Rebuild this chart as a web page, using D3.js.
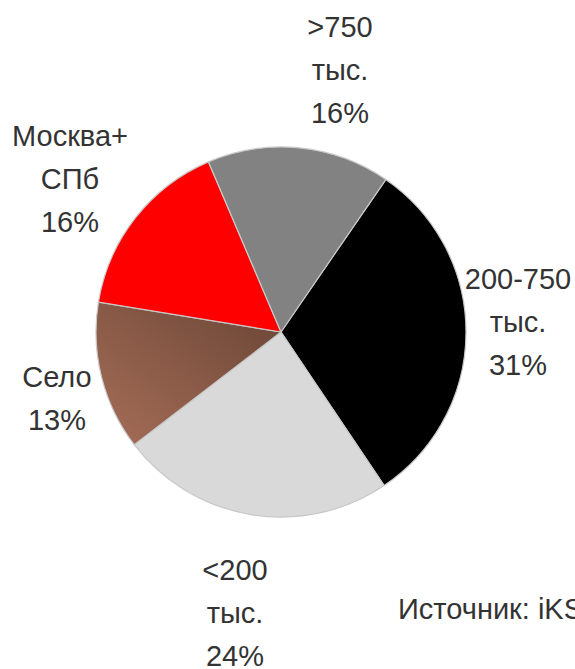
<!DOCTYPE html>
<html>
<head>
<meta charset="utf-8">
<script src="https://cdn.jsdelivr.net/npm/d3@7"></script>
<style>
  body { margin: 0; background: #fff; overflow: hidden; }
  svg text { font-family: "Liberation Sans Narrow", "Arial Narrow", "Liberation Sans", sans-serif; fill: #333; }
</style>
</head>
<body>
<div id="chart"></div>
<script>
// --- data ---
const categories = ["200-750 тыс.", "<200 тыс.", "Село", "Москва+ СПб", ">750 тыс."];
const shares = [31, 24, 13, 16, 16];
const sliceColors = ["#000000", "#d9d9d9", "url(#brownGrad)", "#ff0000", "#828282"];
// label lines per slice
const labelLines = [
  ["200-750", "тыс.", "31%"],
  ["<200", "тыс.", "24%"],
  ["Село", "13%"],
  ["Москва+", "СПб", "16%"],
  [">750", "тыс.", "16%"]
];
const labelPos = [[518, 289], [235, 580], [57, 387], [70, 146], [340, 37]];
const source = "Источник: iKS-Consulting";

const W = 575, H = 669;
const cx = 281, cy = 332, R = 185;

const svg = d3.select("#chart").append("svg").attr("width", W).attr("height", H);

const defs = svg.append("defs");
const g = defs.append("linearGradient").attr("id", "brownGrad")
  .attr("x1", 1).attr("y1", 0).attr("x2", 0).attr("y2", 1);
g.append("stop").attr("offset", "0%").attr("stop-color", "#6a4535");
g.append("stop").attr("offset", "100%").attr("stop-color", "#a66e58");

const pie = d3.pie().sort(null)
  .startAngle(34.5 * Math.PI / 180)
  .endAngle((34.5 + 360) * Math.PI / 180);
const arc = d3.arc().innerRadius(0).outerRadius(R);

const pieG = svg.append("g").attr("transform", `translate(${cx},${cy})`);
pieG.selectAll("path").data(pie(shares)).enter().append("path")
  .attr("d", arc)
  .attr("fill", (d, i) => sliceColors[i])
  .attr("stroke", "#c8c8c8")
  .attr("stroke-width", 1.2);

// --- labels ---
const lineH = 43;
labelLines.forEach((lines, i) => {
  const t = svg.append("text")
    .attr("x", labelPos[i][0]).attr("y", labelPos[i][1])
    .attr("text-anchor", "middle")
    .style("font-size", "29px");
  lines.forEach((l, j) => {
    t.append("tspan").attr("x", labelPos[i][0]).attr("y", labelPos[i][1] + j * lineH).text(l);
  });
});

svg.append("text").attr("x", 398).attr("y", 619)
  .style("font-size", "29px")
  .text(source);
</script>
</body>
</html>
